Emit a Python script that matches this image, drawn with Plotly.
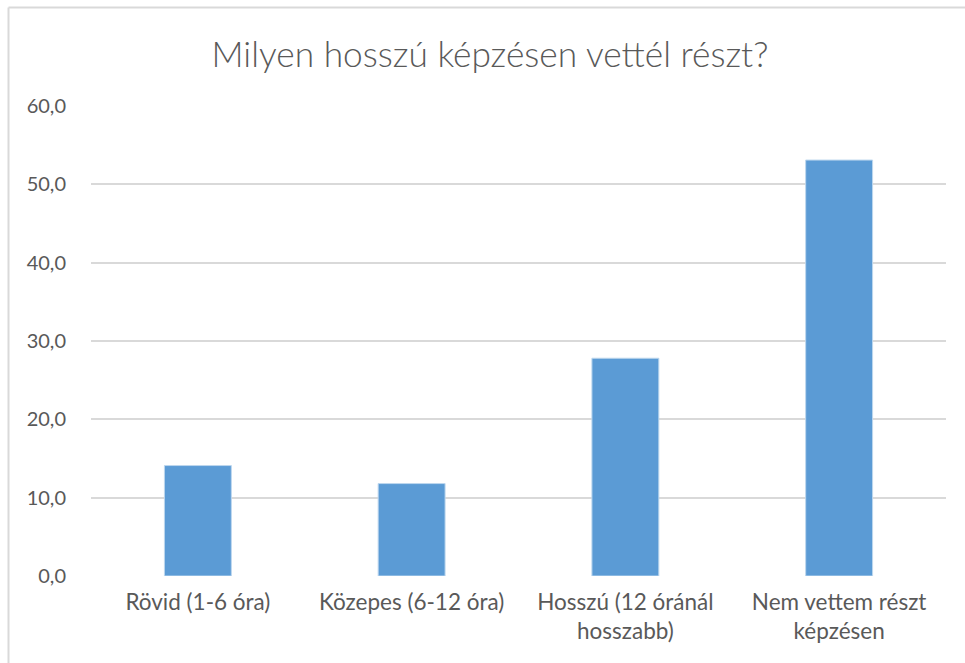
import plotly.graph_objects as go

categories = [
    "Rövid (1-6 óra)",
    "Közepes (6-12 óra)",
    "Hosszú (12 óránál<br>hosszabb)",
    "Nem vettem részt<br>képzésen",
]
values = [14.1, 11.8, 27.8, 53.1]
y_ticks = [0, 10, 20, 30, 40, 50, 60]
y_tick_labels = ["0,0", "10,0", "20,0", "30,0", "40,0", "50,0", "60,0"]
title_text = "Milyen hosszú képzésen vettél részt?"

W, H = 965, 663
ml, mr, mt, mb = 91, 19, 106, 87
pw, ph = W - ml - mr, H - mt - mb

fig = go.Figure(
    go.Bar(
        x=categories,
        y=values,
        marker=dict(color="#5B9BD5", line=dict(color="#BDD7EE", width=1)),
        hoverinfo="skip",
    )
)

txt = "#595959"
fig.update_layout(
    width=W,
    height=H,
    margin=dict(l=ml, r=mr, t=mt, b=mb),
    paper_bgcolor="white",
    plot_bgcolor="white",
    bargap=0.687,
    showlegend=False,
    font=dict(family="Lato", color=txt),
    title=dict(
        text=title_text,
        font=dict(family="Lato", size=35.3, color=txt, weight=300),
        x=490 / W,
        xref="container",
        xanchor="center",
        y=1 - 55 / H,
        yref="container",
        yanchor="middle",
    ),
    xaxis=dict(
        showgrid=False,
        showline=False,
        ticks="",
        ticklabelstandoff=10,
        tickfont=dict(size=22.5, color=txt),
    ),
    yaxis=dict(
        range=[0, 60],
        tickvals=y_ticks,
        ticktext=y_tick_labels,
        showgrid=True,
        gridcolor="#D9D9D9",
        gridwidth=1.5,
        zeroline=False,
        showline=False,
        ticks="",
        ticklabelstandoff=24,
        tickfont=dict(size=20, color=txt),
    ),
)

# chart area border (left and top edges visible)
x_left = (8.5 - ml) / pw
y_top = (H - mb - 7.5) / ph
fig.add_shape(type="line", xref="paper", yref="paper", x0=x_left, x1=x_left,
              y0=y_top, y1=-1, line=dict(color="#D9D9D9", width=2))
fig.add_shape(type="line", xref="paper", yref="paper", x0=x_left, x1=2,
              y0=y_top, y1=y_top, line=dict(color="#D9D9D9", width=2))

fig.write_html(
    "out.html",
    config={"displayModeBar": False},
    post_script="document.body.style.margin='0';document.body.style.overflow='hidden';",
)
